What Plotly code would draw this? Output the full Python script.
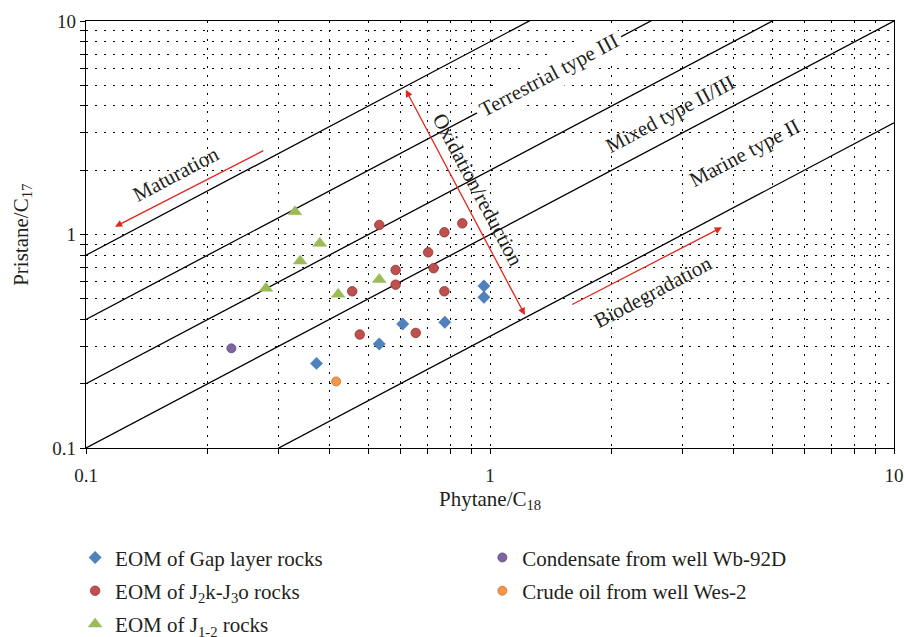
import numpy as np
import plotly.graph_objects as go

# ---------------- data ----------------
gap_x = [0.372, 0.532, 0.608, 0.773, 0.966, 0.966]
gap_y = [0.249, 0.307, 0.381, 0.388, 0.574, 0.508]

j2j3_x = [0.532, 0.854, 0.771, 0.703, 0.584, 0.725, 0.584, 0.456, 0.771, 0.476, 0.655]
j2j3_y = [1.108, 1.128, 1.024, 0.825, 0.682, 0.695, 0.582, 0.542, 0.542, 0.340, 0.346]

j12_x = [0.329, 0.379, 0.339, 0.279, 0.421, 0.532]
j12_y = [1.279, 0.909, 0.751, 0.560, 0.525, 0.616]

cond_x = [0.229]
cond_y = [0.293]

crude_x = [0.416]
crude_y = [0.205]

# Pr/C17 = k * Ph/C18 boundary lines
line_ratios = [8, 4, 2, 1, 1 / 3]
line_x = [0.1, 10]

major_ticks = [0.1, 1, 10]
major_labels = ["0.1", "1", "10"]
minor_ticks = [0.2, 0.3, 0.4, 0.5, 0.6, 0.7, 0.8, 0.9, 2, 3, 4, 5, 6, 7, 8, 9]

x_title = "Phytane/C<sub>18</sub>"
y_title = "Pristane/C<sub>17</sub>"
zone_labels = ["Maturation", "Terrestrial type III", "Mixed type II/III",
               "Marine type II", "Oxidation/reduction", "Biodegradation"]

FONT = "Liberation Serif"
TXT = "#231f20"
ARROW = "#e3261b"

fig = go.Figure()

for k in line_ratios:
    fig.add_trace(go.Scatter(
        x=line_x, y=[k * v for v in line_x], mode="lines",
        line=dict(color="black", width=1.3), showlegend=False, hoverinfo="skip"))

fig.add_trace(go.Scatter(
    x=gap_x, y=gap_y, mode="markers", name="EOM of Gap layer rocks",
    marker=dict(symbol="diamond", size=9.5, color="#4f81bd",
                line=dict(color="#4a7ab5", width=0.5)),
    legend="legend", legendgroup="g1"))
fig.add_trace(go.Scatter(
    x=j2j3_x, y=j2j3_y, mode="markers", name="EOM of J<sub>2</sub>k-J<sub>3</sub>o rocks",
    marker=dict(symbol="circle", size=9.5, color="#c0504d",
                line=dict(color="#8c3431", width=0.8)),
    legend="legend", legendgroup="g2"))
fig.add_trace(go.Scatter(
    x=j12_x, y=j12_y, mode="markers", name="EOM of J<sub>1-2</sub> rocks",
    marker=dict(symbol="triangle-up", size=12, color="#9bbb59",
                line=dict(color="#9bbb59", width=0.5)),
    legend="legend", legendgroup="g3"))
fig.add_trace(go.Scatter(
    x=cond_x, y=cond_y, mode="markers", name="Condensate from well Wb-92D",
    marker=dict(symbol="circle", size=9, color="#8064a2",
                line=dict(color="#5e4a7a", width=0.8)),
    legend="legend2", legendgroup="g4"))
fig.add_trace(go.Scatter(
    x=crude_x, y=crude_y, mode="markers", name="Crude oil from well Wes-2",
    marker=dict(symbol="circle", size=9, color="#f79646",
                line=dict(color="#c0743a", width=0.8)),
    legend="legend2", legendgroup="g5"))

L = np.log10
ann = []
# text labels (positions in log10 units as required for log axes)
label_pos = [(0.167, 1.92, -27.9, None), (1.40, 5.6, -27.9, "white"),
             (2.79, 3.66, -27.9, None), (4.27, 2.41, -27.9, None),
             (0.934, 1.616, 62.1, None), (2.53, 0.538, -27.9, None)]
for t, (px, py, ang, bg) in zip(zone_labels, label_pos):
    d = dict(x=L(px), y=L(py), xref="x", yref="y", text=t, showarrow=False,
             textangle=ang, font=dict(family=FONT, size=21, color=TXT))
    if bg:
        d.update(bgcolor=bg, borderpad=4)
    ann.append(d)

arrows = [((0.118, 1.088), (0.277, 2.49), "end"),
          ((1.22, 0.420), (0.616, 4.84), "end+start"),
          ((3.75, 1.081), (1.584, 0.466), "end")]
for (hx, hy), (tx, ty), side in arrows:
    ann.append(dict(x=L(hx), y=L(hy), ax=L(tx), ay=L(ty), xref="x", yref="y",
                    axref="x", ayref="y", text="", showarrow=True,
                    arrowhead=2, arrowsize=1.1, arrowwidth=1.3, arrowcolor=ARROW,
                    arrowside=side, standoff=0, startstandoff=0))

# axis titles as paper-anchored annotations
ann.append(dict(x=0.5, y=-0.121, xref="paper", yref="paper", text=x_title,
                showarrow=False, xanchor="center", yanchor="middle",
                font=dict(family=FONT, size=21, color=TXT)))
ann.append(dict(x=-0.080, y=0.5, xref="paper", yref="paper", text=y_title,
                showarrow=False, xanchor="center", yanchor="middle", textangle=-90,
                font=dict(family=FONT, size=21, color=TXT)))

axis_common = dict(
    type="log", range=[-1, 1], tickmode="array", tickvals=major_ticks,
    ticktext=major_labels, ticks="outside", ticklen=5, tickwidth=1,
    tickcolor="black", showline=True, linecolor="black", linewidth=1.3,
    mirror=True, showgrid=True, gridcolor="black", gridwidth=1,
    griddash="2px,7px", zeroline=False, automargin=False,
    tickfont=dict(family=FONT, size=19, color=TXT),
    minor=dict(tickmode="array", tickvals=minor_ticks, ticks="outside",
               ticklen=5, tickwidth=1, tickcolor="black", showgrid=True,
               gridcolor="black", gridwidth=1, griddash="2px,7px"),
)

fig.update_layout(
    width=905, height=637,
    margin=dict(l=86, r=11, t=21, b=189, autoexpand=False),
    paper_bgcolor="white", plot_bgcolor="white",
    xaxis=dict(axis_common, ticklabelstandoff=5),
    yaxis=dict(axis_common),
    annotations=ann,
    legend=dict(xref="container", yref="container", x=0.083, y=0.1565,
                xanchor="left", yanchor="top",
                traceorder="grouped", tracegroupgap=3, bgcolor="rgba(0,0,0,0)",
                font=dict(family=FONT, size=21, color=TXT)),
    legend2=dict(xref="container", yref="container", x=0.533, y=0.1565,
                 xanchor="left", yanchor="top",
                 traceorder="grouped", tracegroupgap=3, bgcolor="rgba(0,0,0,0)",
                 font=dict(family=FONT, size=21, color=TXT)),
    showlegend=True,
)

fig.write_html("out.html")
